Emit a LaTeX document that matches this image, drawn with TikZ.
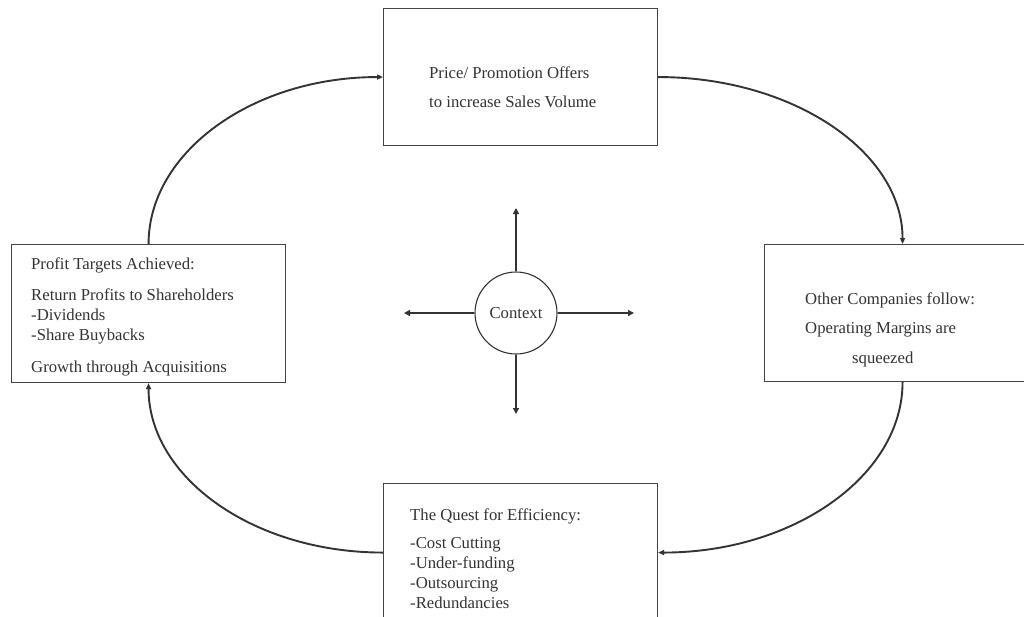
\documentclass[tikz,border=0pt]{standalone}
\usepackage{fontspec}
\setmainfont{Liberation Serif}
\usetikzlibrary{arrows.meta}
\definecolor{ink}{HTML}{333333}
\definecolor{boxline}{HTML}{444444}
\begin{document}
\begin{tikzpicture}[x=1pt,y=-1pt,
  box/.style={draw=boxline, line width=1.1pt, anchor=north west, inner sep=0pt},
  txt/.style={anchor=base west, align=left, inner sep=0pt, text=ink,
              font=\fontsize{16.7}{20}\selectfont},
  cycle/.style={draw=ink, line width=1.9pt, -{Triangle[length=6pt,width=5pt]}},
  ray/.style={draw=ink, line width=2.4pt, -{Triangle[length=6pt,width=6pt]}}]
\useasboundingbox (0,0) rectangle (1024,616);
% boxes
\node[box, minimum width=274pt, minimum height=137pt] (top) at (383,8) {};
\node[box, minimum width=274pt, minimum height=138pt] (left) at (11,244) {};
\node[box, minimum width=276pt, minimum height=137pt] (right) at (764,244) {};
\node[box, minimum width=274pt, minimum height=138pt] (bottom) at (383,483) {};
% texts (anchored at the baseline of the last line)
\node[txt] (toptext) at (429,107) {Price/ Promotion Offers\\[9pt]to increase Sales Volume};
\node[txt] (lefttext) at (31,372) {Profit Targets Achieved:\\[11pt]Return Profits to Shareholders\\-Dividends\\-Share Buybacks\\[12pt]Growth through Acquisitions};
\node[txt] (righttext) at (805,363) {Other Companies follow:\\[9.5pt]Operating Margins are\\[9.5pt]\hspace*{47pt}squeezed};
\node[txt] (bottomtext) at (410,608) {The Quest for Efficiency:\\[8pt]-Cost Cutting\\-Under-funding\\-Outsourcing\\-Redundancies};
% cycle connectors
\draw[cycle] (left.north) .. controls +(0,-92) and +(-130,0) .. (top.west);
\draw[cycle] (top.east) .. controls +(135,0) and +(0,-92) .. (right.north);
\draw[cycle] (right.south) .. controls +(0,94) and +(135,0) .. (bottom.east);
\draw[cycle] (bottom.west) .. controls +(-130,0) and +(0,94) .. (left.south);
% context
\node[circle, draw=ink, line width=1.1pt, minimum size=82pt, inner sep=0pt, text=ink,
      font=\fontsize{16.7}{20}\selectfont] (ctx) at (516,313) {Context};
\coordinate (cu) at (516,208);
\coordinate (cd) at (516,414);
\coordinate (cl) at (404,313);
\coordinate (cr) at (634,313);
\draw[ray] (ctx.north) -- (cu);
\draw[ray] (ctx.south) -- (cd);
\draw[ray] (ctx.west) -- (cl);
\draw[ray] (ctx.east) -- (cr);
\end{tikzpicture}
\end{document}
